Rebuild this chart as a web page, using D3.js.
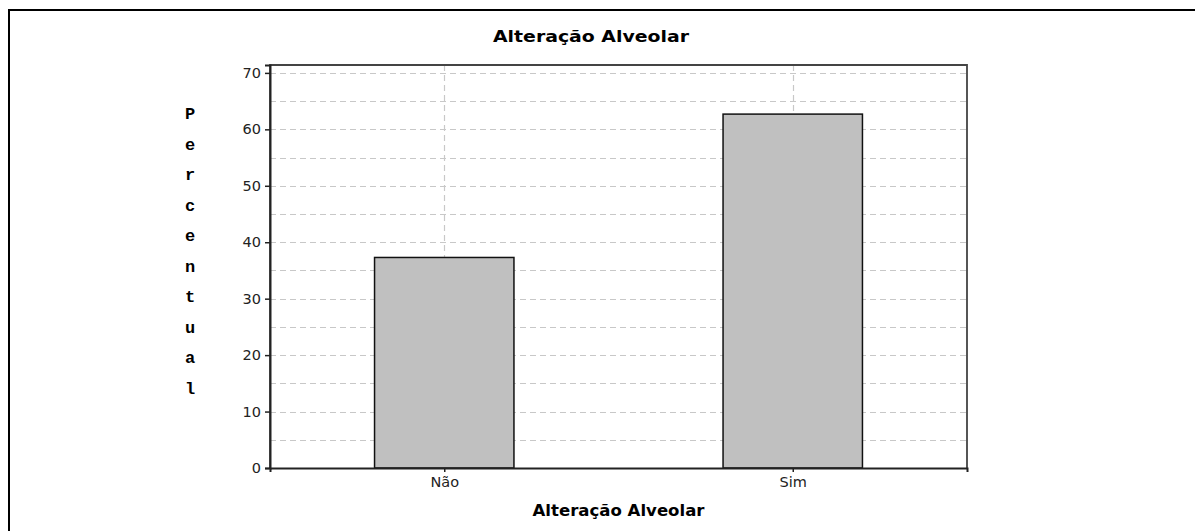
<!DOCTYPE html>
<html>
<head>
<meta charset="utf-8">
<script src="https://cdn.jsdelivr.net/npm/d3@7"></script>
<style>
  body { margin: 0; background: #fff; overflow: hidden; }
  svg { display: block; }
</style>
</head>
<body>
<div id="chart"></div>
<script>
// data
const categories = ['Não', 'Sim'];
const values = [37.3, 62.7];
const yTicks = [0, 10, 20, 30, 40, 50, 60, 70];
const yGrid = [5, 10, 15, 20, 25, 30, 35, 40, 45, 50, 55, 60, 65, 70];
const title = 'Alteração Alveolar';
const xAxisLabel = 'Alteração Alveolar';
const yAxisLabel = 'Percentual';

const W = 1195, H = 531;
const sansFont = 'Tahoma, "DejaVu Sans", sans-serif';
const margin = { top: 65, right: 228, bottom: 63, left: 270 },
    width = W - margin.left - margin.right,
    height = H - margin.top - margin.bottom;

const root = d3.select('#chart').append('svg')
    .attr('width', W)
    .attr('height', H)
    .style('font-family', sansFont);

// outer frame: only the left and top edges are visible
root.append('path')
    .attr('d', 'M9,' + H + 'V10H' + W)
    .attr('fill', 'none')
    .attr('stroke', '#000')
    .attr('stroke-width', 2);

const svg = root.append('g')
    .attr('transform', 'translate(' + margin.left + ',' + margin.top + ')');

const xScale = d3.scalePoint()
    .domain(categories)
    .range([0, width])
    .padding(0.5);

const yScale = d3.scaleLinear()
    .domain([0, 71.4])
    .range([height, 0]);

const barW = xScale.step() * 0.4;

// grid lines
svg.append('g').selectAll('line')
    .data(yGrid)
    .enter().append('line')
    .attr('x1', 0).attr('x2', width)
    .attr('y1', d => Math.round(yScale(d)) + 0.5)
    .attr('y2', d => Math.round(yScale(d)) + 0.5)
    .attr('stroke', '#c8c8c8')
    .attr('stroke-width', 1.2)
    .attr('stroke-dasharray', '6,4');

svg.append('g').selectAll('line')
    .data(categories)
    .enter().append('line')
    .attr('x1', d => Math.round(xScale(d)) + 0.5)
    .attr('x2', d => Math.round(xScale(d)) + 0.5)
    .attr('y1', 0).attr('y2', height)
    .attr('stroke', '#c8c8c8')
    .attr('stroke-width', 1.2)
    .attr('stroke-dasharray', '6,4');

// bars
svg.append('g').selectAll('rect')
    .data(values)
    .enter().append('rect')
    .attr('x', (d, i) => xScale(categories[i]) - barW / 2)
    .attr('y', d => yScale(d))
    .attr('width', barW)
    .attr('height', d => height - yScale(d))
    .attr('fill', '#c0c0c0')
    .attr('stroke', '#111')
    .attr('stroke-width', 1.5);

// plot frame
svg.append('path')
    .attr('d', 'M0,' + height + 'V0H' + width + 'V' + height)
    .attr('fill', 'none')
    .attr('stroke', '#444')
    .attr('stroke-width', 1.8);

// axes
const yAxis = d3.axisLeft(yScale)
    .tickValues(yTicks)
    .tickSize(5)
    .tickPadding(4)
    .tickFormat(d3.format('d'));

const yAxisG = svg.append('g').call(yAxis);
yAxisG.select('.domain').attr('stroke', '#222').attr('stroke-width', 2);
yAxisG.selectAll('.tick line').attr('stroke', '#222').attr('stroke-width', 1.5);
yAxisG.selectAll('.tick text')
    .style('font-family', sansFont)
    .style('font-size', '14.5px')
    .attr('fill', '#222');

const xAxis = d3.axisBottom(xScale)
    .tickSize(4)
    .tickPadding(5);

const xAxisG = svg.append('g')
    .attr('transform', 'translate(0,' + height + ')')
    .call(xAxis);
xAxisG.select('.domain').attr('stroke', '#222').attr('stroke-width', 2);
xAxisG.selectAll('.tick line').attr('stroke', '#222').attr('stroke-width', 1.5);
xAxisG.selectAll('.tick text')
    .style('font-family', sansFont)
    .style('font-size', '14.5px')
    .attr('fill', '#222');

// title
root.append('text')
    .attr('x', 591)
    .attr('y', 42)
    .attr('text-anchor', 'middle')
    .style('font-size', '15px')
    .style('font-weight', 'bold')
    .attr('textLength', 196)
    .attr('lengthAdjust', 'spacingAndGlyphs')
    .text(title);

// x axis label
root.append('text')
    .attr('x', margin.left + width / 2)
    .attr('y', 516)
    .attr('text-anchor', 'middle')
    .style('font-size', '15px')
    .style('font-weight', 'bold')
    .attr('textLength', 172)
    .attr('lengthAdjust', 'spacingAndGlyphs')
    .text(xAxisLabel);

// y axis label, one letter per line
root.append('g').selectAll('text')
    .data(yAxisLabel.split(''))
    .enter().append('text')
    .attr('x', 190)
    .attr('y', (d, i) => 119 + i * 30.5)
    .attr('text-anchor', 'middle')
    .style('font-family', '"Liberation Mono", "DejaVu Sans Mono", monospace')
    .style('font-size', '17px')
    .style('font-weight', 'bold')
    .text(d => d);
</script>
</body>
</html>
